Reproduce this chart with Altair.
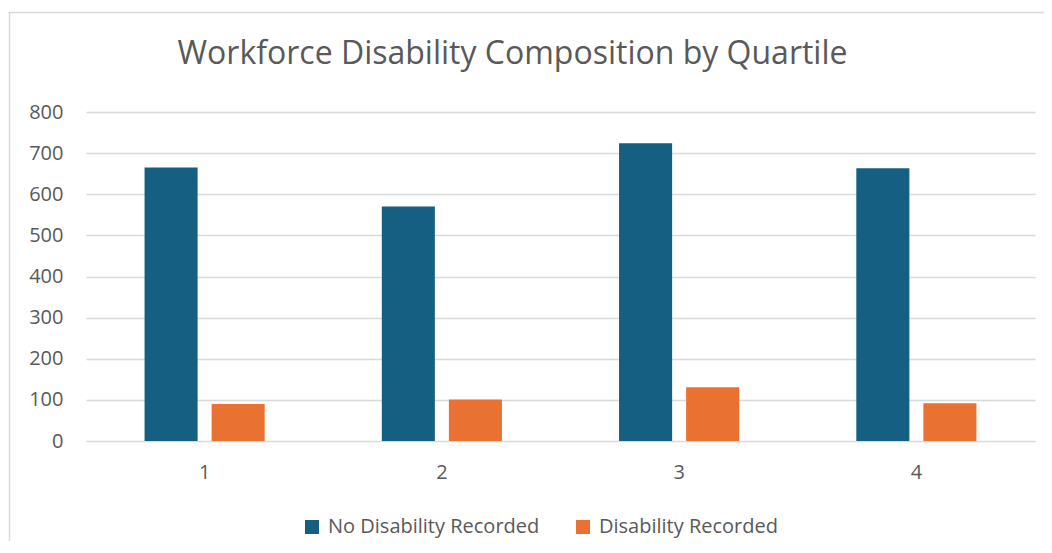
import altair as alt
import pandas as pd

quartiles = ["1", "2", "3", "4"]
series_names = ["No Disability Recorded", "Disability Recorded"]
no_disability = [665, 570, 724, 663]
disability = [90, 101, 131, 92]
colors = ["#156082", "#E97132"]

rows = []
for i, q in enumerate(quartiles):
    rows.append({"Quartile": q, "Series": series_names[0], "Count": no_disability[i]})
    rows.append({"Quartile": q, "Series": series_names[1], "Count": disability[i]})
df = pd.DataFrame(rows)

FONT = "Open Sans"
TXT = "#595959"
FRAME = "#d9d9d9"

bars = alt.Chart(df).mark_bar().encode(
    x=alt.X("Quartile:N", sort=quartiles,
            scale=alt.Scale(paddingInner=0, paddingOuter=0),
            axis=alt.Axis(title=None, labelAngle=0, ticks=False, tickSize=0,
                          labelPadding=21, labelFontSize=20, labelColor=TXT,
                          labelFont=FONT, domain=True, domainColor="#d9d9d9",
                          grid=False)),
    xOffset=alt.XOffset("Series:N", sort=series_names,
                        scale=alt.Scale(paddingInner=0.209, paddingOuter=0.873)),
    y=alt.Y("Count:Q", scale=alt.Scale(domain=[0, 800]),
            axis=alt.Axis(title=None, values=list(range(0, 801, 100)),
                          ticks=False, tickSize=0, domain=False,
                          labelPadding=23, labelFontSize=20, labelColor=TXT,
                          labelFont=FONT, gridColor="#d9d9d9", gridWidth=1.3)),
    color=alt.Color("Series:N", sort=series_names,
                    scale=alt.Scale(domain=series_names, range=colors),
                    legend=alt.Legend(title=None, orient="none", direction="horizontal",
                                      legendX=216, legendY=405,
                                      symbolType="square", symbolSize=196,
                                      symbolStrokeWidth=0, symbolOpacity=1,
                                      labelFontSize=20, labelColor=TXT, labelFont=FONT,
                                      labelOffset=6, labelLimit=0, columnPadding=33)),
)

frame_top = alt.Chart().mark_rule(color=FRAME, strokeWidth=1.5).encode(
    x=alt.value(-77), x2=alt.value(970), y=alt.value(-99.5))
frame_left = alt.Chart().mark_rule(color=FRAME, strokeWidth=1.5).encode(
    x=alt.value(-76.5), y=alt.value(-100), y2=alt.value(450))

chart = alt.layer(frame_top, frame_left, bars).properties(
    width=949,
    height=329,
    autosize=alt.AutoSizeParams(type="none"),
    padding={"left": 78, "top": 104, "right": 9, "bottom": 100},
    title=alt.TitleParams("Workforce Disability Composition by Quartile",
                          fontSize=32, font=FONT, fontWeight="normal",
                          color=TXT, anchor="middle", offset=33, dx=-48, dy=93),
).configure_view(stroke=None)

chart.save("out.html", embed_options={"renderer": "svg", "actions": False})
